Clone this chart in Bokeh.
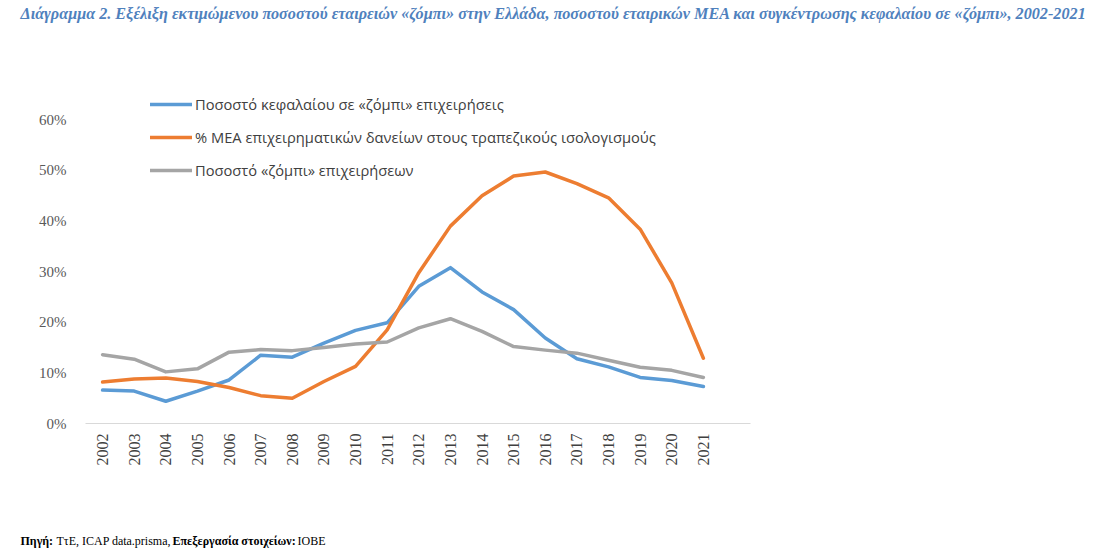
from bokeh.plotting import figure
from bokeh.models import Range1d, FixedTicker, Legend, LegendItem, ColumnDataSource
from bokeh.core.properties import value
from bokeh.embed import file_html
from bokeh.resources import INLINE
import math

years = list(range(2002, 2022))
capital_share = [6.6, 6.4, 4.4, 6.4, 8.6, 13.5, 13.1, 15.9, 18.4, 19.9, 27.1, 30.8, 26.0, 22.5, 16.9, 12.8, 11.2, 9.1, 8.5, 7.3]
npl_share = [8.2, 8.8, 9.0, 8.3, 7.1, 5.5, 5.0, 8.3, 11.3, 18.5, 29.8, 39.0, 45.0, 48.9, 49.7, 47.4, 44.6, 38.4, 27.8, 12.9]
zombie_share = [13.6, 12.7, 10.2, 10.8, 14.1, 14.6, 14.4, 15.0, 15.7, 16.1, 18.9, 20.7, 18.2, 15.2, 14.5, 13.9, 12.5, 11.1, 10.5, 9.1]
y_ticks = [0, 10, 20, 30, 40, 50, 60]
y_tick_labels = ["0%", "10%", "20%", "30%", "40%", "50%", "60%"]

series_names = [
    "Ποσοστό κεφαλαίου σε «ζόμπι» επιχειρήσεις",
    "% ΜΕΑ επιχειρηματικών δανείων στους τραπεζικούς ισολογισμούς",
    "Ποσοστό «ζόμπι» επιχειρήσεων",
]
series_colors = ["#5B9BD5", "#ED7D31", "#A5A5A5"]

title_text = ("Διάγραμμα 2. Εξέλιξη εκτιμώμενου ποσοστού εταιρειών «ζόμπι» στην Ελλάδα, "
              "ποσοστού εταιρικών ΜΕΑ και συγκέντρωσης κεφαλαίου σε «ζόμπι», 2002-2021")
footer_texts = ["Πηγή:", "ΤτΕ, ICAP data.prisma,", "Επεξεργασία στοιχείων:", "ΙΟΒΕ"]
footer_styles = ["bold", "normal", "bold", "normal"]

W = 1103
H_TOP, H_MAIN, H_FOOT = 30, 470, 49


def blank_fig(h):
    f = figure(width=W, height=h, output_backend="svg", toolbar_location=None,
               x_range=Range1d(0, W), y_range=Range1d(0, h),
               min_border=0, x_axis_location=None, y_axis_location=None)
    f.outline_line_color = None
    f.grid.visible = False
    f.background_fill_color = "white"
    f.border_fill_color = "white"
    return f


# title strip
top = blank_fig(H_TOP)
top.text(x=[20], y=[H_TOP - 13], text=[title_text], text_font=value("Liberation Serif"),
         text_font_style="bold italic", text_font_size="16.2px", text_color="#4F81BD",
         text_baseline="middle", text_align="left")

# main chart
src = ColumnDataSource(dict(year=years, cap=capital_share, npl=npl_share, zom=zombie_share))
p = figure(width=W, height=H_MAIN, output_backend="svg", toolbar_location=None,
           x_range=Range1d(2001.46, 2022.49), y_range=Range1d(0, 66),
           min_border_left=85, min_border_right=W - 750, min_border_top=89 - H_TOP,
           min_border_bottom=H_TOP + H_MAIN - 423)
p.outline_line_color = None
p.xgrid.visible = False
p.ygrid.visible = False
p.background_fill_color = "white"
p.border_fill_color = "white"

renderers = []
for col, color in zip(["cap", "npl", "zom"], series_colors):
    r = p.line("year", col, source=src, line_color=color, line_width=3.5,
               line_join="round", line_cap="round")
    renderers.append(r)

legend = Legend(items=[LegendItem(label=n, renderers=[r]) for n, r in zip(series_names, renderers)],
                location=(65, 243), padding=0, margin=0, spacing=13,
                glyph_width=42, glyph_height=20, label_height=20, label_standoff=3,
                label_text_font="Open Sans", label_text_font_size="14.7px",
                label_text_color="#404040", border_line_alpha=0, background_fill_alpha=0)
p.add_layout(legend, "center")

xa = p.xaxis[0]
xa.ticker = FixedTicker(ticks=years)
xa.major_label_overrides = {y: str(y) for y in years}
xa.major_label_orientation = math.pi / 2
xa.major_tick_line_color = None
xa.minor_tick_line_color = None
xa.major_tick_out = 0
xa.axis_line_color = "#D9D9D9"
xa.axis_line_width = 1
xa.major_label_standoff = 10
xa.major_label_text_font = "Liberation Serif"
xa.major_label_text_font_size = "16px"
xa.major_label_text_color = "#404040"

ya = p.yaxis[0]
ya.ticker = FixedTicker(ticks=y_ticks)
ya.major_label_overrides = {t: l for t, l in zip(y_ticks, y_tick_labels)}
ya.axis_line_color = None
ya.major_tick_line_color = None
ya.minor_tick_line_color = None
ya.major_tick_out = 0
ya.major_label_standoff = 19
ya.major_label_text_font = "Liberation Serif"
ya.major_label_text_font_size = "15px"
ya.major_label_text_color = "#595959"

# footer strip
foot = blank_fig(H_FOOT)
footer_x = [20, 56, 172, 297]
for txt, style, xx in zip(footer_texts, footer_styles, footer_x):
    foot.text(x=[xx], y=[H_FOOT - 40], text=[txt], text_font=value("Liberation Serif"),
              text_font_style=style, text_font_size="12px", text_color="#000000",
              text_baseline="middle", text_align="left")

open("out.html", "w").write(file_html([top, p, foot], INLINE))
